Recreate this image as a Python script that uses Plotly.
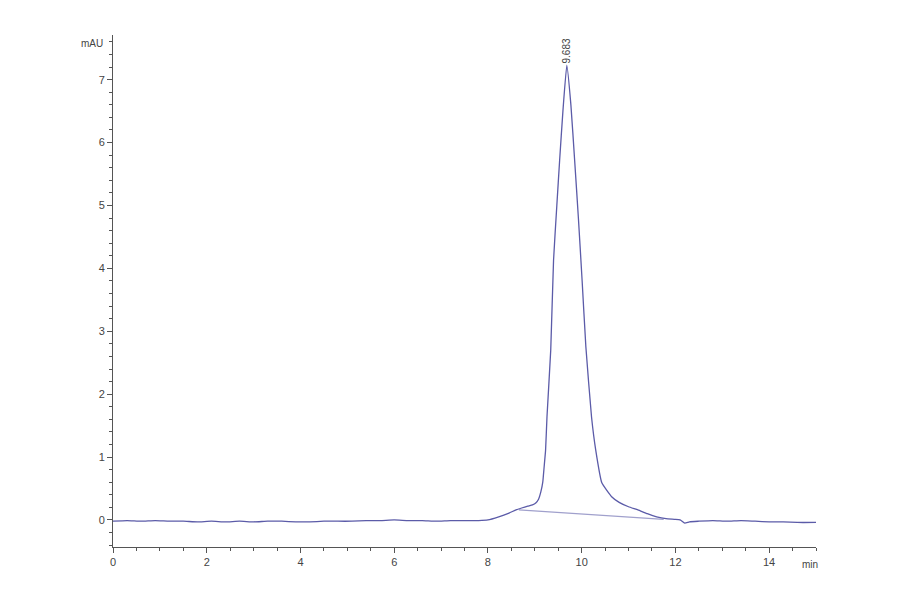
import plotly.graph_objects as go

# retention time (min) and absorbance (mAU)
time_min = [0.0, 0.3, 0.6, 0.9, 1.2, 1.5, 1.8, 2.1, 2.4, 2.7, 3.0, 3.3, 3.6,
            3.9, 4.2, 4.5, 4.8, 5.1, 5.4, 5.7, 6.0, 6.3, 6.6, 6.9, 7.2, 7.5,
            7.8, 8.0, 8.23, 8.45, 8.6, 8.72, 8.85, 8.95, 9.02, 9.08, 9.13,
            9.17, 9.20, 9.23, 9.26, 9.34, 9.40, 9.47, 9.53, 9.60, 9.683,
            9.77, 9.85, 9.93, 10.01, 10.09, 10.21, 10.30, 10.43, 10.64, 10.8,
            11.0, 11.2, 11.4, 11.6, 11.8, 12.0, 12.1, 12.2, 12.3, 12.5, 12.8,
            13.1, 13.4, 13.7, 14.0, 14.3, 14.6, 15.0]
absorbance = [-0.02, -0.01, -0.02, -0.01, -0.02, -0.02, -0.03, -0.02, -0.03,
              -0.02, -0.03, -0.02, -0.02, -0.03, -0.03, -0.02, -0.02, -0.02,
              -0.01, -0.01, 0.00, -0.01, -0.01, -0.02, -0.01, -0.01, -0.01,
              0.00, 0.05, 0.11, 0.16, 0.19, 0.22, 0.24, 0.27, 0.33, 0.45,
              0.60, 0.85, 1.11, 1.64, 2.70, 4.13, 5.00, 5.72, 6.50, 7.23,
              6.60, 5.72, 4.80, 3.80, 2.75, 1.64, 1.11, 0.59, 0.37, 0.28,
              0.21, 0.16, 0.10, 0.05, 0.02, 0.01, 0.00, -0.05, -0.03, -0.02,
              -0.01, -0.02, -0.01, -0.02, -0.03, -0.03, -0.04, -0.04]

# integration baseline drawn under the peak
base_time = [8.66, 11.75]
base_abs = [0.16, 0.01]

peak_time = 9.683
peak_height = 7.23

LINE = "#5b5ba8"
AXIS = "#555555"
TEXT = "#444444"

fig = go.Figure()
fig.add_trace(go.Scatter(x=base_time, y=base_abs, mode="lines",
                         line=dict(color="#a0a0cc", width=1.2)))
fig.add_trace(go.Scatter(x=time_min, y=absorbance, mode="lines",
                         line=dict(color=LINE, width=1.3, shape="spline",
                                   smoothing=0.4)))

fig.add_annotation(x=peak_time, y=peak_height, text=f"{peak_time:.3f}",
                   textangle=-90, showarrow=False, xanchor="center",
                   yanchor="bottom", yshift=0,
                   font=dict(size=10, color=TEXT, family="Liberation Sans"))
fig.add_annotation(x=1.0, y=0, xref="paper", yref="paper", text="min",
                   showarrow=False, xanchor="center", yanchor="top",
                   xshift=-6, yshift=-10,
                   font=dict(size=10, color=TEXT, family="Liberation Sans"))
fig.add_annotation(x=0, y=1, xref="paper", yref="paper", text="mAU",
                   showarrow=False, xanchor="right", yanchor="middle",
                   xshift=-8, yshift=-8,
                   font=dict(size=10, color=TEXT, family="Liberation Sans"))

fig.update_layout(
    width=900, height=594, plot_bgcolor="white", paper_bgcolor="white",
    showlegend=False,
    margin=dict(l=105, r=92, t=27, b=55),
    font=dict(family="Liberation Sans", size=11, color=TEXT),
    xaxis=dict(range=[0, 15], dtick=2, tick0=0, showgrid=False,
               zeroline=False, showline=True, linecolor=AXIS, linewidth=1,
               ticks="outside", ticklen=5, tickcolor=AXIS,
               minor=dict(dtick=0.5, ticks="outside", ticklen=3,
                          tickcolor=AXIS)),
    yaxis=dict(range=[-0.43, 7.71], dtick=1, tick0=0, showgrid=False,
               zeroline=False, showline=True, linecolor=AXIS, linewidth=1,
               ticks="outside", ticklen=5, tickcolor=AXIS,
               minor=dict(dtick=0.2, ticks="outside", ticklen=3,
                          tickcolor=AXIS)),
)

fig.write_html("out.html")
